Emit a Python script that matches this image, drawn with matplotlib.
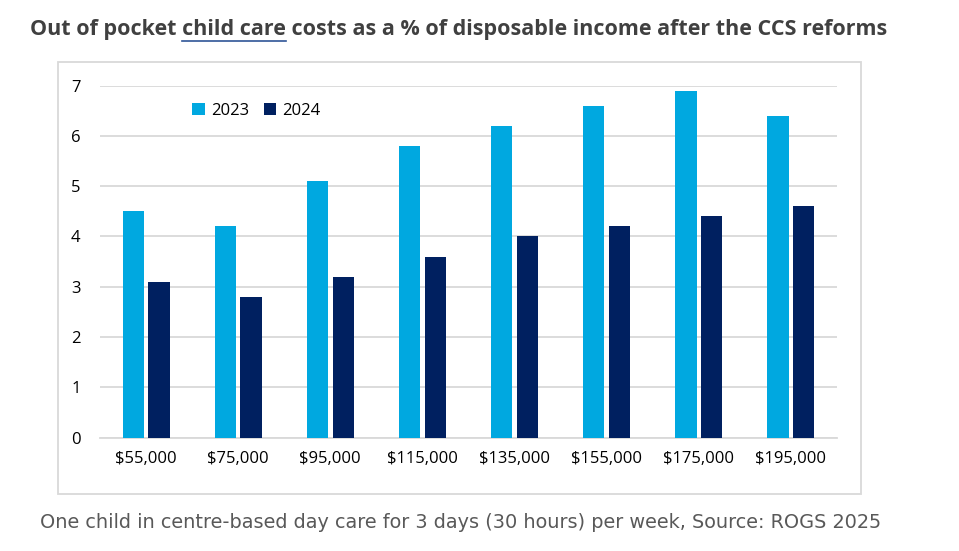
import matplotlib.pyplot as plt
import numpy as np
from matplotlib.patches import Rectangle

INCOMES = ["$55,000", "$75,000", "$95,000", "$115,000",
           "$135,000", "$155,000", "$175,000", "$195,000"]
COST_2023 = [4.5, 4.2, 5.1, 5.8, 6.2, 6.6, 6.9, 6.4]
COST_2024 = [3.1, 2.8, 3.2, 3.6, 4.0, 4.2, 4.4, 4.6]
SERIES = [
    ("2023", COST_2023, "#00A8E0"),
    ("2024", COST_2024, "#002060"),
]
TITLE = "Out of pocket child care costs as a % of disposable income after the CCS reforms"
CAPTION = ("One child in centre-based day care for 3 days (30 hours) per week, "
           "Source: ROGS 2025")

W, H = 959, 551
fig = plt.figure(figsize=(W / 100, H / 100), dpi=100)

# chart frame
fig.patches.append(Rectangle((57.5 / W, 1 - 494 / H), (861 - 57.5) / W,
                             (494 - 61.5) / H, transform=fig.transFigure,
                             fill=False, edgecolor="#d9d9d9", linewidth=1.3))

ax = fig.add_axes([100 / W, 1 - 437.6 / H, (837 - 100) / W, (437.6 - 85.6) / H])
x = np.arange(len(INCOMES))
width = 0.23
offsets = [-0.14, 0.14]
for (name, values, color), off in zip(SERIES, offsets):
    ax.bar(x + off, values, width=width, color=color, label=name, zorder=3)

ax.set_xlim(-0.5, len(INCOMES) - 0.5)
ax.set_ylim(0, 7)
ax.set_yticks(range(8))
ax.set_xticks(x, INCOMES)
ax.grid(axis="y", color="#d9d9d9", linewidth=1.3, zorder=0)
for side in ["left", "right", "top"]:
    ax.spines[side].set_visible(False)
ax.spines["bottom"].set_color("#d9d9d9")
ax.spines["bottom"].set_linewidth(1.3)
ax.tick_params(length=0, labelsize=12, colors="#000000")
ax.tick_params(axis="x", pad=10)
ax.tick_params(axis="y", pad=14)
for lab in ax.get_xticklabels() + ax.get_yticklabels():
    lab.set_fontfamily("Open Sans")

leg = ax.legend(loc="center left", bbox_to_anchor=(0.105, 0.929), ncol=2,
                frameon=False, handlelength=0.75, handleheight=0.75,
                handletextpad=0.35, columnspacing=0.9,
                prop={"family": "Open Sans", "size": 12})

title_style = dict(fontsize=15.5, fontweight="bold", family="Open Sans")
fig.text(30 / W, 1 - 30 / H, TITLE, color="#404040", va="center", ha="left",
         **title_style)

# underline under "child care", measured from the title text
renderer = fig.canvas.get_renderer()


def text_width(s):
    t = fig.text(0, 0, s, **title_style)
    w = t.get_window_extent(renderer).width
    t.remove()
    return w


start = 30 + text_width("Out of pocket child") - text_width("child")
end = 30 + text_width("Out of pocket child care")
fig.add_artist(plt.Line2D([start / W, end / W], [1 - 41 / H, 1 - 41 / H],
                          color="#2f5597", linewidth=1.2))

fig.text(40 / W, 1 - 523 / H, CAPTION, fontsize=13.85, color="#595959",
         family="DejaVu Sans", va="center", ha="left")

fig.savefig("out.png", dpi=100)
